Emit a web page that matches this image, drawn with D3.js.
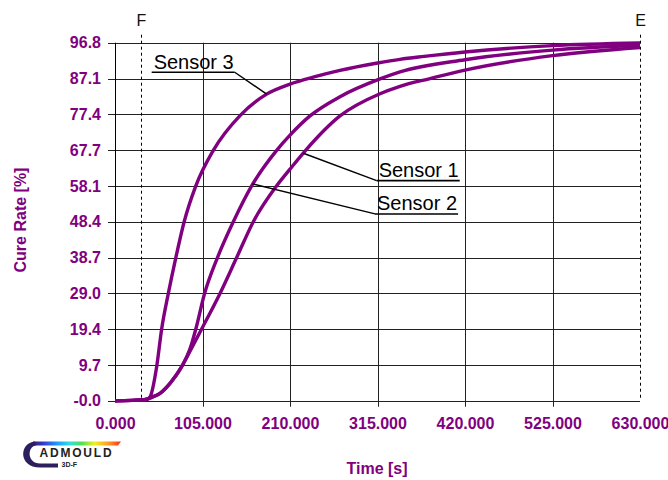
<!doctype html>
<html>
<head>
<meta charset="UTF-8">
<title>Cure Rate</title>
<script src="https://d3js.org/d3.v7.min.js"></script>
<style>
  body { margin: 0; background: #fff; }
  text { font-family: "Liberation Sans", Arial, sans-serif; }
</style>
</head>
<body>
<script>
// ---- data ----
var xTicks = [0, 105, 210, 315, 420, 525, 630];
var yTicks = [0, 9.68, 19.36, 29.04, 38.72, 48.4, 58.08, 67.76, 77.44, 87.12, 96.8];
var yTickLabels = ["-0.0", "9.7", "19.4", "29.0", "38.7", "48.4", "58.1", "67.7", "77.4", "87.1", "96.8"];

// Sensor 3 (fastest)
var s3Time = [0, 38, 42, 50, 56, 64, 73, 83, 97, 118, 150, 182, 210, 240, 270, 315, 342, 371, 420, 525, 630];
var s3Rate = [0, 0.3, 1.0, 9.2, 19.4, 29.0, 38.7, 48.4, 58.1, 67.7, 77.1, 82.9, 85.6, 87.6, 89.3, 91.3, 92.3, 93.1, 94.3, 96.0, 96.7];
// Sensor 2 (middle)
var s2Time = [0, 35, 45, 54, 66, 80, 90, 97, 107, 123, 142, 164, 194, 210, 234, 270, 318, 342, 420, 525, 630];
var s2Rate = [0, 0.3, 1.0, 2.0, 4.7, 9.2, 14.0, 19.4, 28.6, 38.7, 48.4, 58.1, 67.7, 71.8, 77.0, 82.2, 87.0, 88.9, 92.2, 94.8, 96.1];
// Sensor 1 (slowest)
var s1Time = [0, 35, 45, 54, 66, 80, 90, 104, 126, 146, 166, 194, 210, 228, 270, 318, 342, 378, 420, 525, 630];
var s1Rate = [0, 0.3, 1.0, 2.0, 4.7, 9.2, 13.4, 19.4, 29.0, 38.7, 48.4, 58.1, 62.6, 67.5, 77.0, 83.0, 85.0, 87.1, 89.4, 93.3, 95.5];

// labels: underline start (time, rate) and leader target on the curve
var labelNames = ["Sensor 3", "Sensor 1", "Sensor 2"];
var labelAt = [[44, 88.8], [314, 59.5], [312, 50.5]];
var labelTarget = [[182, 82.9], [226, 66.9], [165, 58.6]];

// vertical markers
var markerNames = ["F", "E"];
var markerTime = [31.2, 630];

// ---- layout ----
var W = 668, H = 480;
var plotLeft = 115, plotRight = 640, plotTop = 42.7, plotBottom = 400.7;
var purple = "#800080";

var svg = d3.select("body").append("svg")
  .attr("width", W).attr("height", H);

var x = d3.scaleLinear().domain([0, 630]).range([plotLeft, plotRight]);
var y = d3.scaleLinear().domain([0, 96.8]).range([plotBottom, plotTop]);

// horizontal grid lines (with tick stub on the left)
svg.append("g").selectAll("line").data(yTicks).join("line")
  .attr("x1", plotLeft - 7).attr("x2", plotRight)
  .attr("y1", d => Math.round(y(d)) + 0.5).attr("y2", d => Math.round(y(d)) + 0.5)
  .attr("stroke", "#222").attr("stroke-width", 1);

// vertical grid lines (skip the dashed E position)
svg.append("g").selectAll("line").data(xTicks.slice(1, -1)).join("line")
  .attr("x1", d => Math.round(x(d)) + 0.5).attr("x2", d => Math.round(x(d)) + 0.5)
  .attr("y1", plotTop).attr("y2", plotBottom + 6)
  .attr("stroke", "#222").attr("stroke-width", 1);

// y axis line
svg.append("line")
  .attr("x1", plotLeft + 0.5).attr("x2", plotLeft + 0.5).attr("y1", plotTop).attr("y2", plotBottom + 1)
  .attr("stroke", "#000").attr("stroke-width", 1);

// y tick labels
var yAxis = svg.append("g")
  .attr("transform", "translate(" + plotLeft + ",0)")
  .call(d3.axisLeft(y).tickValues(yTicks).tickSize(0).tickPadding(14)
    .tickFormat((d, i) => yTickLabels[i]));
yAxis.select(".domain").remove();
yAxis.selectAll("text")
  .attr("fill", purple).style("font-size", "16px").style("font-weight", "bold")
  .style("font-family", "'Liberation Sans', Arial, sans-serif");

// x tick labels
var xAxis = svg.append("g")
  .attr("transform", "translate(0," + plotBottom + ")")
  .call(d3.axisBottom(x).tickValues(xTicks).tickSize(0).tickPadding(17)
    .tickFormat(d3.format(".3f")));
xAxis.select(".domain").remove();
xAxis.selectAll("text")
  .attr("fill", purple).style("font-size", "16px").style("font-weight", "bold")
  .style("font-family", "'Liberation Sans', Arial, sans-serif");

// dashed markers F and E
markerNames.forEach(function(name, i) {
  var mx = Math.round(x(markerTime[i])) + 0.5;
  svg.append("line")
    .attr("x1", mx).attr("x2", mx)
    .attr("y1", plotTop - 8).attr("y2", plotBottom)
    .attr("stroke", "#000").attr("stroke-width", 1)
    .attr("stroke-dasharray", "3,3");
  svg.append("text")
    .attr("x", mx).attr("y", 26)
    .attr("text-anchor", "middle")
    .style("font-size", "16px").attr("fill", "#111")
    .text(name);
});

// curves
var line = d3.line()
  .x(d => x(d[0])).y(d => y(d[1]))
  .curve(d3.curveMonotoneX);

[[s1Time, s1Rate], [s2Time, s2Rate], [s3Time, s3Rate]].forEach(function(s) {
  var pts = s[0].map((t, i) => [t, s[1][i]]);
  svg.append("path").datum(pts)
    .attr("d", line)
    .attr("fill", "none")
    .attr("stroke", purple)
    .attr("stroke-width", 3.4)
    .attr("stroke-linejoin", "round");
});

// sensor labels with underline and leader
labelNames.forEach(function(name, i) {
  var lx = x(labelAt[i][0]), ly = y(labelAt[i][1]);
  var t = svg.append("text")
    .attr("x", lx + 2).attr("y", ly - 3.5)
    .style("font-size", "20px").attr("fill", "#000")
    .text(name);
  var w = t.node().getComputedTextLength();
  svg.append("line")
    .attr("x1", lx).attr("x2", lx + w + 3).attr("y1", ly).attr("y2", ly)
    .attr("stroke", "#000").attr("stroke-width", 1.6);
  svg.append("line")
    .attr("x1", i == 0 ? lx + w + 3 : lx).attr("y1", ly)
    .attr("x2", x(labelTarget[i][0])).attr("y2", y(labelTarget[i][1]))
    .attr("stroke", "#000").attr("stroke-width", 1.4);
});

// axis titles
svg.append("text")
  .attr("x", 377).attr("y", 474)
  .attr("text-anchor", "middle")
  .style("font-size", "16px").style("font-weight", "bold")
  .attr("fill", purple)
  .text("Time [s]");

svg.append("text")
  .attr("transform", "translate(26,220) rotate(-90)")
  .attr("text-anchor", "middle")
  .style("font-size", "16px").style("font-weight", "bold")
  .attr("fill", purple)
  .text("Cure Rate [%]");

// logo
var defs = svg.append("defs");
var grad = defs.append("linearGradient").attr("id", "rainbow")
  .attr("x1", "0%").attr("x2", "100%").attr("y1", "0%").attr("y2", "0%");
[["0", "#2b1c70"], ["0.12", "#3a3ad0"], ["0.28", "#1aa0ff"], ["0.42", "#30e0e0"],
 ["0.55", "#50e050"], ["0.7", "#f0f020"], ["0.85", "#ffa020"], ["1", "#ff3020"]]
  .forEach(s => grad.append("stop").attr("offset", s[0]).attr("stop-color", s[1]));

var logo = svg.append("g");
logo.append("path")
  .attr("d", "M33 441.5 L121 441.5 L118 445.5 L33 445.5 Z")
  .attr("fill", "url(#rainbow)");
logo.append("path")
  .attr("d", "M35 441.5 C19 442.5 18 467.5 40 467.5 L58 467.5 L58 463.5 L40 463.5 C27 463.5 27 446.5 36 445.5 Z")
  .attr("fill", "#2d1f5e");
logo.append("text")
  .attr("x", 39.5).attr("y", 457)
  .style("font-size", "12px").style("font-weight", "bold")
  .style("letter-spacing", "1.8px")
  .attr("fill", "#222")
  .text("ADMOULD");
logo.append("text")
  .attr("x", 61.5).attr("y", 466.5)
  .style("font-size", "7px").style("font-weight", "bold")
  .attr("fill", "#222")
  .text("3D-F");
</script>
</body>
</html>
